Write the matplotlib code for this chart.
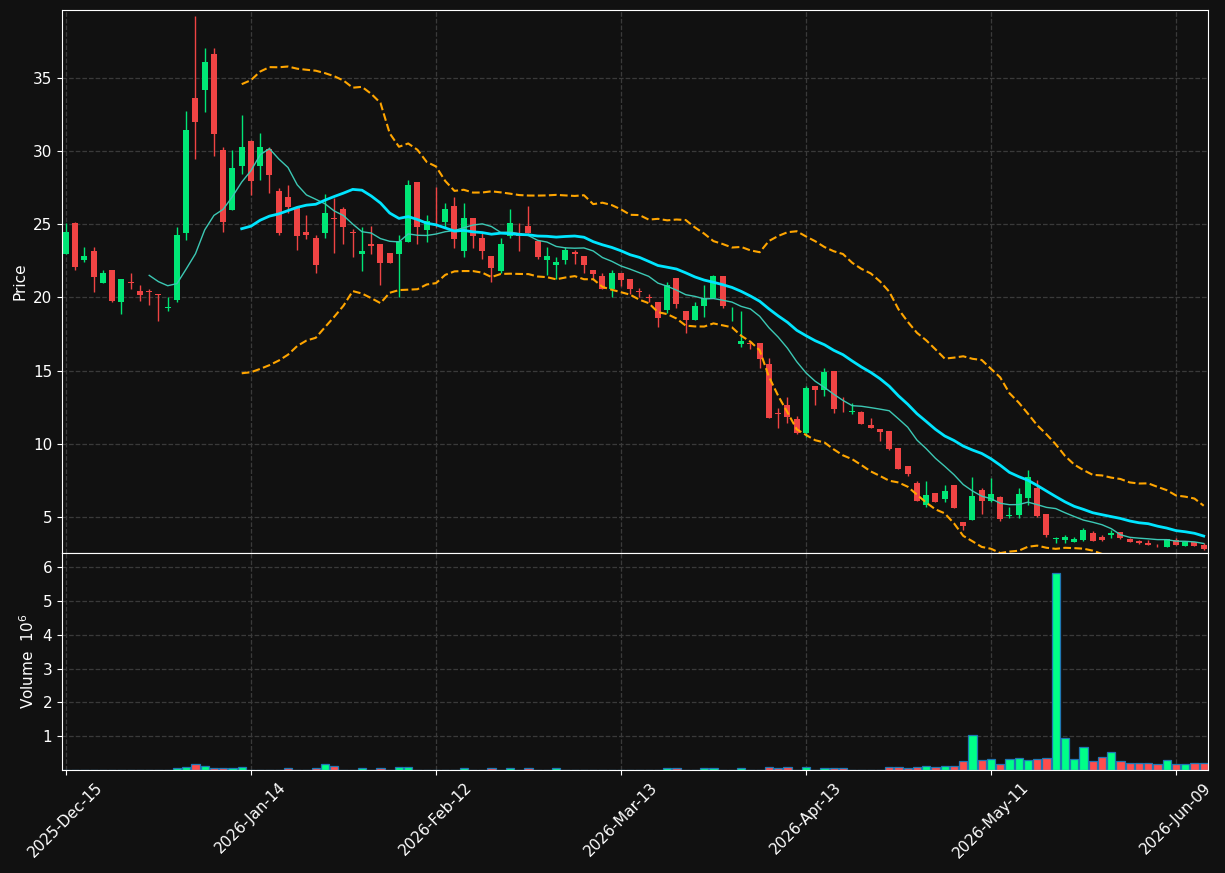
import numpy as np
import pandas as pd
import matplotlib
matplotlib.use('Agg')
import matplotlib.pyplot as plt

# OHLC, one entry per trading day (index positions)
opens = [22.97, 25.07, 22.58, 23.18, 21.01, 21.88, 19.71, 21.05, 20.44, 20.42,
         20.24, 19.28, 19.85, 24.43, 33.63, 34.18, 36.64, 30.08, 26.00, 29.01,
         30.69, 29.01, 30.15, 27.30, 26.87, 26.14, 24.48, 24.07, 24.43, 25.44,
         26.05, 24.47, 23.00, 23.66, 23.66, 23.04, 23.00, 23.82, 27.89, 24.64,
         25.87, 25.18, 26.25, 23.20, 25.43, 24.04, 22.84, 21.81, 24.20, 24.43,
         24.89, 23.88, 22.56, 22.22, 22.56, 23.11, 22.84, 21.88, 21.47, 20.58,
         21.67, 21.26, 20.44, 20.01, 19.69, 19.15, 21.33, 19.08, 18.46, 19.44,
         19.94, 21.47, 19.06, 16.82, 16.90, 16.87, 15.46, 12.09, 12.65, 11.70,
         10.72, 13.95, 13.68, 14.98, 12.67, 12.18, 12.18, 11.29, 11.01, 10.88,
         9.69, 8.48, 7.30, 5.80, 6.62, 6.21, 7.19, 4.66, 4.79, 6.85,
         6.11, 6.37, 5.05, 5.14, 6.32, 7.00, 5.20, 3.52, 3.43, 3.31,
         3.43, 3.88, 3.65, 3.77, 4.00, 3.50, 3.36, 3.25, 3.11, 2.93,
         3.43, 3.04, 3.27, 3.09]
highs = [25.07, 25.18, 23.43, 23.43, 21.88, 21.88, 21.26, 21.65, 20.83, 20.56,
         20.24, 20.01, 24.84, 32.74, 39.24, 37.03, 37.03, 30.26, 30.08, 32.45,
         30.75, 31.22, 30.26, 27.46, 27.69, 26.14, 25.62, 24.25, 27.05, 26.82,
         26.16, 24.66, 24.84, 24.89, 23.66, 23.04, 24.25, 28.03, 27.89, 25.64,
         27.57, 26.44, 26.85, 26.44, 25.43, 24.39, 22.84, 24.04, 26.03, 25.11,
         26.25, 23.88, 23.43, 22.79, 23.43, 23.25, 22.84, 21.88, 21.65, 21.88,
         21.67, 21.26, 20.65, 20.24, 19.69, 21.04, 21.33, 19.08, 19.67, 20.85,
         21.54, 21.47, 19.33, 19.08, 17.03, 16.87, 15.84, 12.43, 13.18, 11.90,
         13.95, 13.95, 15.16, 14.98, 13.22, 12.77, 12.22, 11.74, 11.01, 10.88,
         9.69, 8.48, 7.48, 7.48, 6.66, 7.19, 7.19, 4.66, 7.71, 6.96,
         7.64, 6.40, 5.66, 6.96, 8.21, 7.53, 5.20, 3.65, 3.77, 3.65,
         4.27, 4.04, 3.77, 4.11, 4.00, 3.54, 3.43, 3.40, 3.18, 3.50,
         3.56, 3.29, 3.29, 3.20]
lows = [22.97, 21.88, 22.41, 20.40, 21.01, 19.70, 18.85, 20.56, 19.78, 19.47,
        18.37, 19.08, 19.67, 23.93, 29.44, 32.66, 29.67, 24.45, 26.00, 28.42,
        27.00, 28.03, 27.12, 24.25, 25.75, 23.25, 24.02, 21.65, 24.04, 23.02,
        23.64, 22.79, 21.83, 22.97, 20.83, 22.38, 20.01, 23.82, 23.64, 23.82,
        24.84, 24.84, 23.41, 22.79, 23.41, 22.61, 21.04, 21.65, 24.04, 23.20,
        24.43, 22.61, 21.54, 21.25, 22.27, 22.27, 21.65, 21.24, 20.58, 20.01,
        20.79, 20.24, 20.01, 19.71, 17.96, 18.92, 19.26, 17.55, 18.46, 18.65,
        19.94, 19.26, 18.42, 16.64, 16.46, 15.16, 11.79, 11.06, 11.45, 10.70,
        10.49, 12.65, 13.27, 12.09, 12.20, 12.02, 11.38, 11.11, 10.22, 9.60,
        8.25, 7.83, 6.12, 5.71, 5.99, 6.05, 5.60, 4.11, 4.79, 5.18,
        6.05, 4.73, 4.91, 4.91, 5.80, 5.00, 3.65, 3.25, 3.25, 3.29,
        3.38, 3.36, 3.36, 3.54, 3.52, 3.29, 3.18, 3.09, 2.93, 2.93,
        3.06, 3.02, 2.99, 2.77]
closes = [24.50, 22.11, 22.84, 21.42, 21.65, 19.78, 21.26, 21.00, 20.17, 20.38,
          20.20, 19.34, 24.27, 31.45, 32.02, 36.09, 31.19, 25.18, 28.85, 30.28,
          27.98, 30.28, 28.40, 24.43, 26.18, 24.23, 24.27, 22.22, 25.77, 25.38,
          24.84, 24.43, 23.18, 23.54, 22.38, 22.38, 23.86, 27.69, 24.84, 25.23,
          25.81, 26.03, 24.00, 25.43, 24.23, 23.20, 22.04, 23.66, 25.07, 24.23,
          24.43, 22.75, 22.84, 22.43, 23.25, 22.97, 22.22, 21.60, 20.58, 21.67,
          21.20, 20.58, 20.40, 19.97, 18.62, 20.85, 19.58, 18.46, 19.42, 19.94,
          21.47, 19.44, 19.10, 17.03, 16.85, 15.82, 11.79, 12.03, 11.86, 10.76,
          13.81, 13.68, 14.91, 12.38, 12.62, 12.22, 11.38, 11.11, 10.83, 9.65,
          8.28, 7.96, 6.12, 6.48, 6.05, 6.78, 5.64, 4.38, 6.43, 6.09,
          6.57, 4.84, 5.12, 6.57, 7.71, 5.07, 3.77, 3.56, 3.61, 3.50,
          4.11, 3.38, 3.43, 3.88, 3.54, 3.31, 3.20, 3.11, 3.07, 3.47,
          3.09, 3.27, 3.02, 2.79]
# volume in millions
volumes = [0.01, 0.01, 0.01, 0.01, 0.01, 0.01, 0.01, 0.0, 0.01, 0.01,
           0.01, 0.01, 0.06, 0.09, 0.18, 0.12, 0.06, 0.06, 0.06, 0.09,
           0.01, 0.01, 0.01, 0.01, 0.05, 0.01, 0.01, 0.05, 0.18, 0.12,
           0.01, 0.01, 0.05, 0.01, 0.05, 0.01, 0.08, 0.08, 0.01, 0.01,
           0.01, 0.01, 0.01, 0.05, 0.01, 0.01, 0.05, 0.01, 0.05, 0.01,
           0.05, 0.01, 0.01, 0.05, 0.01, 0.01, 0.01, 0.01, 0.01, 0.01,
           0.01, 0.01, 0.0, 0.01, 0.01, 0.05, 0.05, 0.01, 0.01, 0.05,
           0.05, 0.01, 0.01, 0.05, 0.01, 0.01, 0.08, 0.05, 0.08, 0.01,
           0.08, 0.01, 0.05, 0.05, 0.05, 0.01, 0.01, 0.01, 0.01, 0.08,
           0.08, 0.05, 0.08, 0.11, 0.08, 0.11, 0.11, 0.26, 1.03, 0.29,
           0.32, 0.17, 0.32, 0.35, 0.29, 0.32, 0.35, 5.84, 0.94, 0.32,
           0.67, 0.26, 0.38, 0.52, 0.26, 0.20, 0.20, 0.20, 0.17, 0.29,
           0.17, 0.17, 0.20, 0.20]

tick_pos = [0, 20, 40, 60, 80, 100, 120]
tick_labels = ['2025-Dec-15', '2026-Jan-14', '2026-Feb-12', '2026-Mar-13',
               '2026-Apr-13', '2026-May-11', '2026-Jun-09']

up_col = '#00e676'
down_col = '#ef4444'
vol_up = '#00ff88'
vol_down = '#ff4d4d'
bg = '#111111'
grid_col = '#3a3a3a'

df = pd.DataFrame({'Open': opens, 'High': highs, 'Low': lows,
                   'Close': closes, 'Volume': volumes})
x = np.arange(len(df))
ma10 = df['Close'].rolling(10).mean()
ma20 = df['Close'].rolling(20).mean()
std20 = df['Close'].rolling(20).std(ddof=0)
upper = ma20 + 2 * std20
lower = ma20 - 2 * std20

up = df['Close'] >= df['Open']
colors = np.where(up, up_col, down_col)
vcolors = np.where(up, vol_up, vol_down)

fig = plt.figure(figsize=(12.25, 8.73), dpi=100, facecolor=bg)
ax = fig.add_axes([0.0506, 0.3666, 0.9355, 0.622])
axv = fig.add_axes([0.0506, 0.118, 0.9355, 0.2486], sharex=ax)

for a in (ax, axv):
    a.set_facecolor(bg)
    for s in a.spines.values():
        s.set_color('white')
    a.tick_params(colors='white', labelsize=11)
    a.grid(True, color=grid_col, linestyle='--', linewidth=0.9)
    a.set_axisbelow(True)

# candles
ax.vlines(x, df['Low'], df['High'], colors=colors, linewidth=1)
body_h = (df['Close'] - df['Open']).abs().clip(lower=0.04)
body_b = np.minimum(df['Open'], df['Close'])
ax.bar(x, body_h, bottom=body_b, width=0.65, color=colors, linewidth=0)

ax.plot(x, ma10, color='#3cc8b4', linewidth=1)
ax.plot(x, ma20, color='#00e5ff', linewidth=2)
ax.plot(x, upper, color='#ffa500', linestyle='--', linewidth=1.5)
ax.plot(x, lower, color='#ffa500', linestyle='--', linewidth=1.5)

ax.set_ylim(2.54, 39.65)
ax.set_yticks([5, 10, 15, 20, 25, 30, 35])
ax.set_ylabel('Price', color='white', fontsize=11)
ax.tick_params(labelbottom=False)

axv.bar(x, df['Volume'], width=0.88, color=vcolors, edgecolor='#1f77b4', linewidth=0.9)
axv.set_ylim(0, 6.42)
axv.set_yticks([1, 2, 3, 4, 5, 6])
axv.set_ylabel('Volume  $10^6$', color='white', fontsize=11)

axv.set_xlim(-0.43, 123.46)
axv.set_xticks(tick_pos)
axv.set_xticklabels(tick_labels, rotation=45, ha='center')

fig.savefig('out.png', dpi=100, facecolor=bg)
